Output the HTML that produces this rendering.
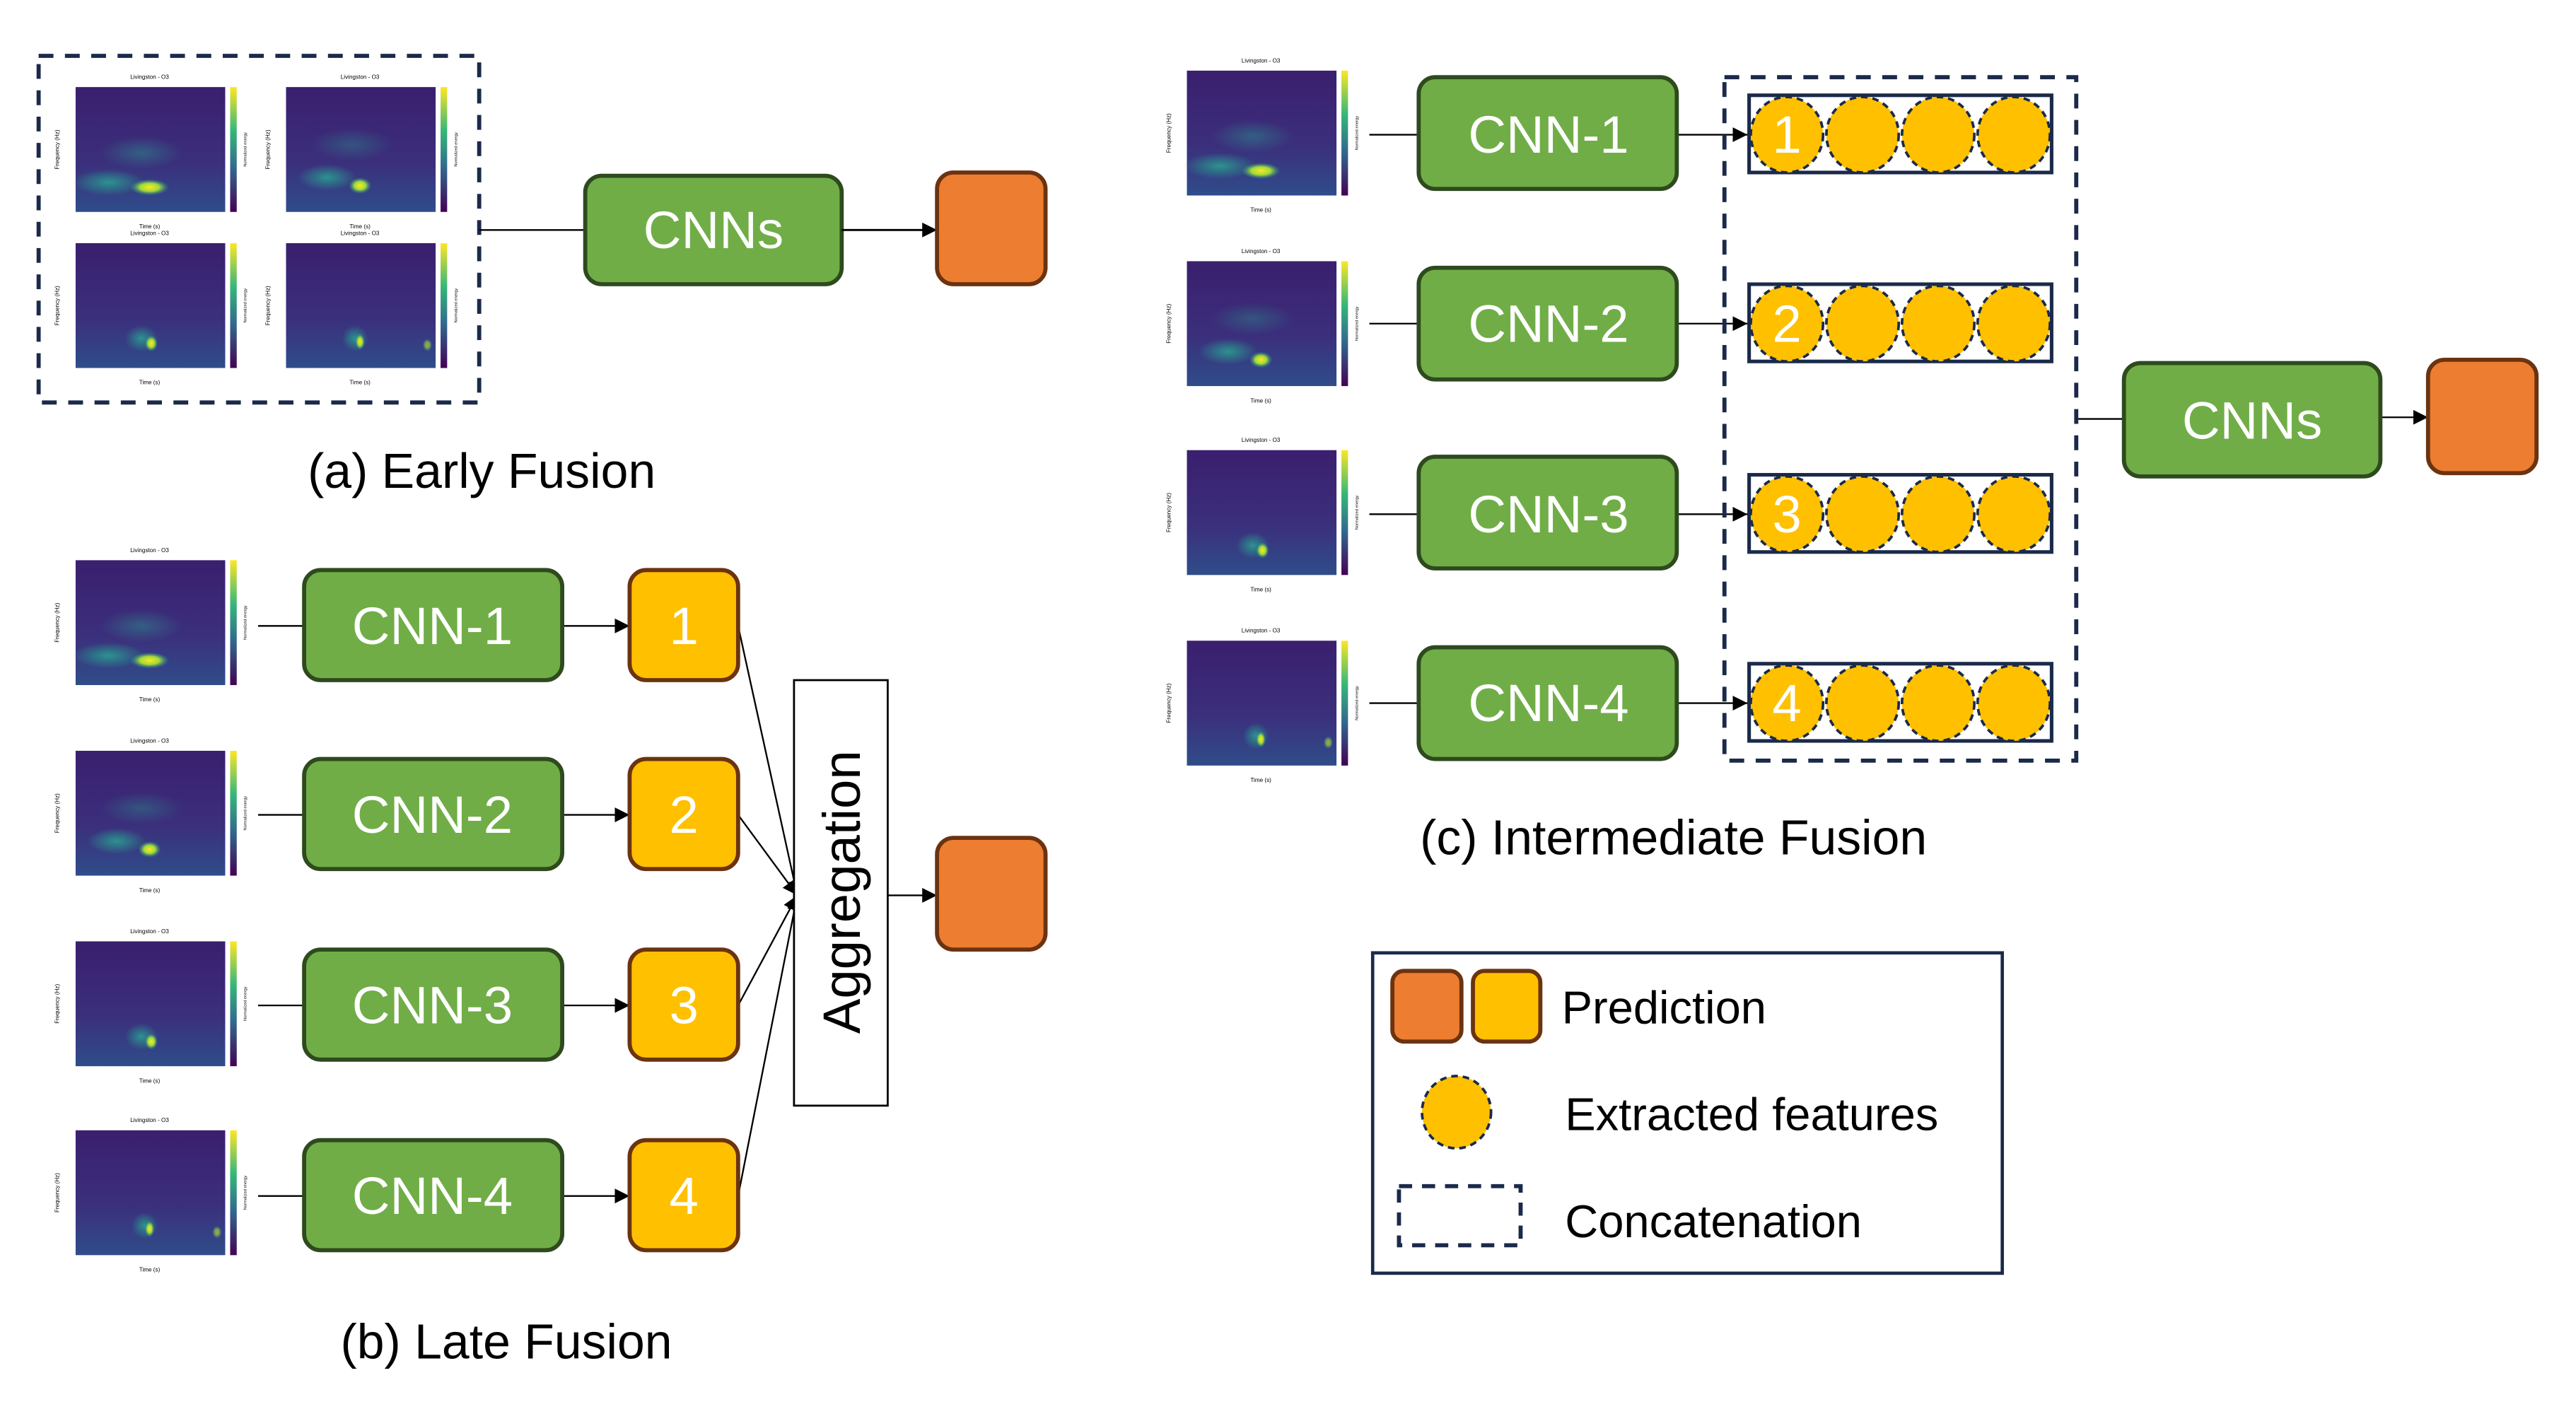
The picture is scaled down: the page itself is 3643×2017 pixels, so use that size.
<!DOCTYPE html>
<html><head><meta charset="utf-8"><style>
html,body{margin:0;padding:0;background:#fff;}
svg{display:block;}
text{font-family:"Liberation Sans Narrow","Liberation Sans",sans-serif;}
</style></head><body>
<svg width="3643" height="2017" viewBox="0 0 1567 868" preserveAspectRatio="none" xmlns="http://www.w3.org/2000/svg">
<defs>
<linearGradient id="sg" x1="0" y1="0" x2="0" y2="1"><stop offset="0" stop-color="#3a1f6e"/><stop offset="0.6" stop-color="#3b2f7c"/><stop offset="1" stop-color="#2f4d8a"/></linearGradient>
<linearGradient id="cb" x1="0" y1="1" x2="0" y2="0"><stop offset="0" stop-color="#440154"/><stop offset="0.35" stop-color="#31688e"/><stop offset="0.65" stop-color="#35b779"/><stop offset="1" stop-color="#fde725"/></linearGradient>
<radialGradient id="hot"><stop offset="0" stop-color="#fde725"/><stop offset="0.5" stop-color="#a0da39"/><stop offset="1" stop-color="#21918c" stop-opacity="0"/></radialGradient>
<radialGradient id="teal"><stop offset="0" stop-color="#2a9d8f" stop-opacity="0.9"/><stop offset="1" stop-color="#2a9d8f" stop-opacity="0"/></radialGradient>
<marker id="ah" viewBox="0 0 10 10" refX="10" refY="5" markerWidth="9" markerHeight="9" markerUnits="userSpaceOnUse" orient="auto"><path d="M0,0 L10,5 L0,10 z" fill="#000"/></marker>
</defs>

<!-- ===== (a) Early fusion ===== -->
<rect x="23.5" y="34" width="268" height="211" fill="none" stroke="#1b2a4a" stroke-width="2.5" stroke-dasharray="9,7"/>
<g transform="translate(46,53)">
<text x="45" y="-5" font-size="3.5" text-anchor="middle">Livingston - O3</text>
<rect width="91" height="76" fill="url(#sg)"/>
<ellipse cx="20" cy="58" rx="22" ry="8" fill="url(#teal)"/><ellipse cx="45" cy="61" rx="12" ry="5" fill="url(#hot)"/><ellipse cx="40" cy="40" rx="25" ry="10" fill="url(#teal)" opacity="0.5"/>
<rect x="94" width="4" height="76" fill="url(#cb)"/>
<text x="45" y="86" font-size="3.5" text-anchor="middle">Time (s)</text>
<text transform="translate(-10,38) rotate(-90)" font-size="3.5" text-anchor="middle">Frequency (Hz)</text>
<text transform="translate(104,38) rotate(-90)" font-size="2.5" text-anchor="middle">Normalized energy</text></g>
<g transform="translate(174,53)">
<text x="45" y="-5" font-size="3.5" text-anchor="middle">Livingston - O3</text>
<rect width="91" height="76" fill="url(#sg)"/>
<ellipse cx="25" cy="55" rx="18" ry="8" fill="url(#teal)"/><ellipse cx="45" cy="60" rx="7" ry="5" fill="url(#hot)"/><ellipse cx="40" cy="35" rx="25" ry="10" fill="url(#teal)" opacity="0.4"/>
<rect x="94" width="4" height="76" fill="url(#cb)"/>
<text x="45" y="86" font-size="3.5" text-anchor="middle">Time (s)</text>
<text transform="translate(-10,38) rotate(-90)" font-size="3.5" text-anchor="middle">Frequency (Hz)</text>
<text transform="translate(104,38) rotate(-90)" font-size="2.5" text-anchor="middle">Normalized energy</text></g>
<g transform="translate(46,148)">
<text x="45" y="-5" font-size="3.5" text-anchor="middle">Livingston - O3</text>
<rect width="91" height="76" fill="url(#sg)"/>
<ellipse cx="40" cy="58" rx="10" ry="8" fill="url(#teal)"/><ellipse cx="46" cy="61" rx="4" ry="5" fill="url(#hot)"/>
<rect x="94" width="4" height="76" fill="url(#cb)"/>
<text x="45" y="86" font-size="3.5" text-anchor="middle">Time (s)</text>
<text transform="translate(-10,38) rotate(-90)" font-size="3.5" text-anchor="middle">Frequency (Hz)</text>
<text transform="translate(104,38) rotate(-90)" font-size="2.5" text-anchor="middle">Normalized energy</text></g>
<g transform="translate(174,148)">
<text x="45" y="-5" font-size="3.5" text-anchor="middle">Livingston - O3</text>
<rect width="91" height="76" fill="url(#sg)"/>
<ellipse cx="42" cy="58" rx="8" ry="8" fill="url(#teal)"/><ellipse cx="45" cy="60" rx="3" ry="5" fill="url(#hot)"/><ellipse cx="86" cy="62" rx="3" ry="4" fill="url(#hot)" opacity="0.6"/>
<rect x="94" width="4" height="76" fill="url(#cb)"/>
<text x="45" y="86" font-size="3.5" text-anchor="middle">Time (s)</text>
<text transform="translate(-10,38) rotate(-90)" font-size="3.5" text-anchor="middle">Frequency (Hz)</text>
<text transform="translate(104,38) rotate(-90)" font-size="2.5" text-anchor="middle">Normalized energy</text></g>
<line x1="291.5" y1="140" x2="356" y2="140" stroke="#000" stroke-width="1"/>
<rect x="356" y="107" width="156" height="66" rx="10" fill="#70ad47" stroke="#2e4a1e" stroke-width="2.5"/>
<text x="434" y="151" font-size="32" fill="#fff" text-anchor="middle">CNNs</text>
<line x1="512" y1="140" x2="570" y2="140" stroke="#000" stroke-width="1.2" marker-end="url(#ah)"/>
<rect x="570" y="105" width="66" height="68" rx="10" fill="#ed7d31" stroke="#6b3310" stroke-width="2.5"/>
<text x="293" y="297" font-size="30" text-anchor="middle">(a) Early Fusion</text>

<!-- ===== (b) Late fusion ===== -->
<g transform="translate(46,341)">
<text x="45" y="-5" font-size="3.5" text-anchor="middle">Livingston - O3</text>
<rect width="91" height="76" fill="url(#sg)"/>
<ellipse cx="20" cy="58" rx="22" ry="8" fill="url(#teal)"/><ellipse cx="45" cy="61" rx="12" ry="5" fill="url(#hot)"/><ellipse cx="40" cy="40" rx="25" ry="10" fill="url(#teal)" opacity="0.5"/>
<rect x="94" width="4" height="76" fill="url(#cb)"/>
<text x="45" y="86" font-size="3.5" text-anchor="middle">Time (s)</text>
<text transform="translate(-10,38) rotate(-90)" font-size="3.5" text-anchor="middle">Frequency (Hz)</text>
<text transform="translate(104,38) rotate(-90)" font-size="2.5" text-anchor="middle">Normalized energy</text></g>
<g transform="translate(46,457)">
<text x="45" y="-5" font-size="3.5" text-anchor="middle">Livingston - O3</text>
<rect width="91" height="76" fill="url(#sg)"/>
<ellipse cx="25" cy="55" rx="18" ry="8" fill="url(#teal)"/><ellipse cx="45" cy="60" rx="7" ry="5" fill="url(#hot)"/><ellipse cx="40" cy="35" rx="25" ry="10" fill="url(#teal)" opacity="0.4"/>
<rect x="94" width="4" height="76" fill="url(#cb)"/>
<text x="45" y="86" font-size="3.5" text-anchor="middle">Time (s)</text>
<text transform="translate(-10,38) rotate(-90)" font-size="3.5" text-anchor="middle">Frequency (Hz)</text>
<text transform="translate(104,38) rotate(-90)" font-size="2.5" text-anchor="middle">Normalized energy</text></g>
<g transform="translate(46,573)">
<text x="45" y="-5" font-size="3.5" text-anchor="middle">Livingston - O3</text>
<rect width="91" height="76" fill="url(#sg)"/>
<ellipse cx="40" cy="58" rx="10" ry="8" fill="url(#teal)"/><ellipse cx="46" cy="61" rx="4" ry="5" fill="url(#hot)"/>
<rect x="94" width="4" height="76" fill="url(#cb)"/>
<text x="45" y="86" font-size="3.5" text-anchor="middle">Time (s)</text>
<text transform="translate(-10,38) rotate(-90)" font-size="3.5" text-anchor="middle">Frequency (Hz)</text>
<text transform="translate(104,38) rotate(-90)" font-size="2.5" text-anchor="middle">Normalized energy</text></g>
<g transform="translate(46,688)">
<text x="45" y="-5" font-size="3.5" text-anchor="middle">Livingston - O3</text>
<rect width="91" height="76" fill="url(#sg)"/>
<ellipse cx="42" cy="58" rx="8" ry="8" fill="url(#teal)"/><ellipse cx="45" cy="60" rx="3" ry="5" fill="url(#hot)"/><ellipse cx="86" cy="62" rx="3" ry="4" fill="url(#hot)" opacity="0.6"/>
<rect x="94" width="4" height="76" fill="url(#cb)"/>
<text x="45" y="86" font-size="3.5" text-anchor="middle">Time (s)</text>
<text transform="translate(-10,38) rotate(-90)" font-size="3.5" text-anchor="middle">Frequency (Hz)</text>
<text transform="translate(104,38) rotate(-90)" font-size="2.5" text-anchor="middle">Normalized energy</text></g>

<g stroke="#000" stroke-width="1">
<line x1="157" y1="381" x2="185" y2="381"/><line x1="157" y1="496" x2="185" y2="496"/><line x1="157" y1="612" x2="185" y2="612"/><line x1="157" y1="728" x2="185" y2="728"/>
<line x1="342" y1="381" x2="383" y2="381" marker-end="url(#ah)"/><line x1="342" y1="496" x2="383" y2="496" marker-end="url(#ah)"/><line x1="342" y1="612" x2="383" y2="612" marker-end="url(#ah)"/><line x1="342" y1="728" x2="383" y2="728" marker-end="url(#ah)"/>
<line x1="449" y1="381" x2="485" y2="545" marker-end="url(#ah)"/><line x1="449" y1="496" x2="485" y2="545" marker-end="url(#ah)"/><line x1="449" y1="612" x2="485" y2="545" marker-end="url(#ah)"/><line x1="449" y1="728" x2="485" y2="545" marker-end="url(#ah)"/>
<line x1="540" y1="545" x2="570" y2="545" marker-end="url(#ah)"/>
</g>
<g fill="#70ad47" stroke="#2e4a1e" stroke-width="2.5">
<rect x="185" y="347" width="157" height="67" rx="10"/><rect x="185" y="462" width="157" height="67" rx="10"/><rect x="185" y="578" width="157" height="67" rx="10"/><rect x="185" y="694" width="157" height="67" rx="10"/>
</g>
<g fill="#ffc000" stroke="#6b3310" stroke-width="2.5">
<rect x="383" y="347" width="66" height="67" rx="10"/><rect x="383" y="462" width="66" height="67" rx="10"/><rect x="383" y="578" width="66" height="67" rx="10"/><rect x="383" y="694" width="66" height="67" rx="10"/>
</g>
<g fill="#fff" font-size="32" text-anchor="middle">
<text x="263" y="392">CNN-1</text><text x="263" y="507">CNN-2</text><text x="263" y="623">CNN-3</text><text x="263" y="739">CNN-4</text>
<text x="416" y="392">1</text><text x="416" y="507">2</text><text x="416" y="623">3</text><text x="416" y="739">4</text>
</g>
<rect x="483" y="414" width="57" height="259" fill="#fff" stroke="#000" stroke-width="1.2"/>
<text transform="translate(523,543) rotate(-90)" font-size="32" text-anchor="middle">Aggregation</text>
<rect x="570" y="510" width="66" height="68" rx="10" fill="#ed7d31" stroke="#6b3310" stroke-width="2.5"/>
<text x="308" y="827" font-size="30" text-anchor="middle">(b) Late Fusion</text>

<!-- ===== (c) Intermediate fusion ===== -->
<g transform="translate(722,43)">
<text x="45" y="-5" font-size="3.5" text-anchor="middle">Livingston - O3</text>
<rect width="91" height="76" fill="url(#sg)"/>
<ellipse cx="20" cy="58" rx="22" ry="8" fill="url(#teal)"/><ellipse cx="45" cy="61" rx="12" ry="5" fill="url(#hot)"/><ellipse cx="40" cy="40" rx="25" ry="10" fill="url(#teal)" opacity="0.5"/>
<rect x="94" width="4" height="76" fill="url(#cb)"/>
<text x="45" y="86" font-size="3.5" text-anchor="middle">Time (s)</text>
<text transform="translate(-10,38) rotate(-90)" font-size="3.5" text-anchor="middle">Frequency (Hz)</text>
<text transform="translate(104,38) rotate(-90)" font-size="2.5" text-anchor="middle">Normalized energy</text></g>
<g transform="translate(722,159)">
<text x="45" y="-5" font-size="3.5" text-anchor="middle">Livingston - O3</text>
<rect width="91" height="76" fill="url(#sg)"/>
<ellipse cx="25" cy="55" rx="18" ry="8" fill="url(#teal)"/><ellipse cx="45" cy="60" rx="7" ry="5" fill="url(#hot)"/><ellipse cx="40" cy="35" rx="25" ry="10" fill="url(#teal)" opacity="0.4"/>
<rect x="94" width="4" height="76" fill="url(#cb)"/>
<text x="45" y="86" font-size="3.5" text-anchor="middle">Time (s)</text>
<text transform="translate(-10,38) rotate(-90)" font-size="3.5" text-anchor="middle">Frequency (Hz)</text>
<text transform="translate(104,38) rotate(-90)" font-size="2.5" text-anchor="middle">Normalized energy</text></g>
<g transform="translate(722,274)">
<text x="45" y="-5" font-size="3.5" text-anchor="middle">Livingston - O3</text>
<rect width="91" height="76" fill="url(#sg)"/>
<ellipse cx="40" cy="58" rx="10" ry="8" fill="url(#teal)"/><ellipse cx="46" cy="61" rx="4" ry="5" fill="url(#hot)"/>
<rect x="94" width="4" height="76" fill="url(#cb)"/>
<text x="45" y="86" font-size="3.5" text-anchor="middle">Time (s)</text>
<text transform="translate(-10,38) rotate(-90)" font-size="3.5" text-anchor="middle">Frequency (Hz)</text>
<text transform="translate(104,38) rotate(-90)" font-size="2.5" text-anchor="middle">Normalized energy</text></g>
<g transform="translate(722,390)">
<text x="45" y="-5" font-size="3.5" text-anchor="middle">Livingston - O3</text>
<rect width="91" height="76" fill="url(#sg)"/>
<ellipse cx="42" cy="58" rx="8" ry="8" fill="url(#teal)"/><ellipse cx="45" cy="60" rx="3" ry="5" fill="url(#hot)"/><ellipse cx="86" cy="62" rx="3" ry="4" fill="url(#hot)" opacity="0.6"/>
<rect x="94" width="4" height="76" fill="url(#cb)"/>
<text x="45" y="86" font-size="3.5" text-anchor="middle">Time (s)</text>
<text transform="translate(-10,38) rotate(-90)" font-size="3.5" text-anchor="middle">Frequency (Hz)</text>
<text transform="translate(104,38) rotate(-90)" font-size="2.5" text-anchor="middle">Normalized energy</text></g>

<g stroke="#000" stroke-width="1">
<line x1="833" y1="82" x2="862" y2="82"/><line x1="833" y1="197" x2="862" y2="197"/><line x1="833" y1="313" x2="862" y2="313"/><line x1="833" y1="428" x2="862" y2="428"/>
<line x1="1020" y1="82" x2="1063" y2="82" marker-end="url(#ah)"/><line x1="1020" y1="197" x2="1063" y2="197" marker-end="url(#ah)"/><line x1="1020" y1="313" x2="1063" y2="313" marker-end="url(#ah)"/><line x1="1020" y1="428" x2="1063" y2="428" marker-end="url(#ah)"/>
<line x1="1262" y1="255" x2="1292" y2="255"/>
<line x1="1448" y1="254" x2="1477" y2="254" marker-end="url(#ah)"/>
</g>
<g fill="#70ad47" stroke="#2e4a1e" stroke-width="2.5">
<rect x="863" y="47" width="157" height="68" rx="10"/><rect x="863" y="163" width="157" height="68" rx="10"/><rect x="863" y="278" width="157" height="68" rx="10"/><rect x="863" y="394" width="157" height="68" rx="10"/>
<rect x="1292" y="221" width="156" height="69" rx="10"/>
</g>
<rect x="1049" y="47" width="214" height="416" fill="none" stroke="#1b2a4a" stroke-width="2.5" stroke-dasharray="9,7"/>
<g fill="#fff" stroke="#1b2a4a" stroke-width="2.2">
<rect x="1064" y="58" width="184" height="47"/><rect x="1064" y="173" width="184" height="47"/><rect x="1064" y="289" width="184" height="47"/><rect x="1064" y="404" width="184" height="47"/>
</g>
<g fill="#ffc000" stroke="#1b2a4a" stroke-width="1.6" stroke-dasharray="4,3">
<ellipse cx="1087" cy="82" rx="22" ry="23"/><ellipse cx="1133" cy="82" rx="22" ry="23"/><ellipse cx="1179" cy="82" rx="22" ry="23"/><ellipse cx="1225" cy="82" rx="22" ry="23"/>
<ellipse cx="1087" cy="197" rx="22" ry="23"/><ellipse cx="1133" cy="197" rx="22" ry="23"/><ellipse cx="1179" cy="197" rx="22" ry="23"/><ellipse cx="1225" cy="197" rx="22" ry="23"/>
<ellipse cx="1087" cy="313" rx="22" ry="23"/><ellipse cx="1133" cy="313" rx="22" ry="23"/><ellipse cx="1179" cy="313" rx="22" ry="23"/><ellipse cx="1225" cy="313" rx="22" ry="23"/>
<ellipse cx="1087" cy="428" rx="22" ry="23"/><ellipse cx="1133" cy="428" rx="22" ry="23"/><ellipse cx="1179" cy="428" rx="22" ry="23"/><ellipse cx="1225" cy="428" rx="22" ry="23"/>
</g>
<g fill="#fff" font-size="32" text-anchor="middle">
<text x="942" y="93">CNN-1</text><text x="942" y="208">CNN-2</text><text x="942" y="324">CNN-3</text><text x="942" y="439">CNN-4</text>
<text x="1087" y="93">1</text><text x="1087" y="208">2</text><text x="1087" y="324">3</text><text x="1087" y="439">4</text>
<text x="1370" y="267">CNNs</text>
</g>
<rect x="1477" y="219" width="66" height="69" rx="10" fill="#ed7d31" stroke="#6b3310" stroke-width="2.5"/>
<text x="1018" y="520" font-size="30" text-anchor="middle">(c) Intermediate Fusion</text>

<!-- ===== Legend ===== -->
<rect x="835" y="580" width="383" height="195" fill="#fff" stroke="#1b2a4a" stroke-width="2"/>
<rect x="847" y="591" width="42" height="43" rx="7" fill="#ed7d31" stroke="#6b3310" stroke-width="2.5"/>
<rect x="896" y="591" width="41" height="43" rx="7" fill="#ffc000" stroke="#6b3310" stroke-width="2.5"/>
<text x="950" y="623" font-size="28">Prediction</text>
<ellipse cx="886" cy="677" rx="21" ry="22" fill="#ffc000" stroke="#1b2a4a" stroke-width="1.6" stroke-dasharray="4,3"/>
<text x="952" y="688" font-size="28">Extracted features</text>
<rect x="851" y="722" width="74" height="36" fill="none" stroke="#1b2a4a" stroke-width="2.5" stroke-dasharray="8,6"/>
<text x="952" y="753" font-size="28">Concatenation</text>
</svg>
</body></html>
